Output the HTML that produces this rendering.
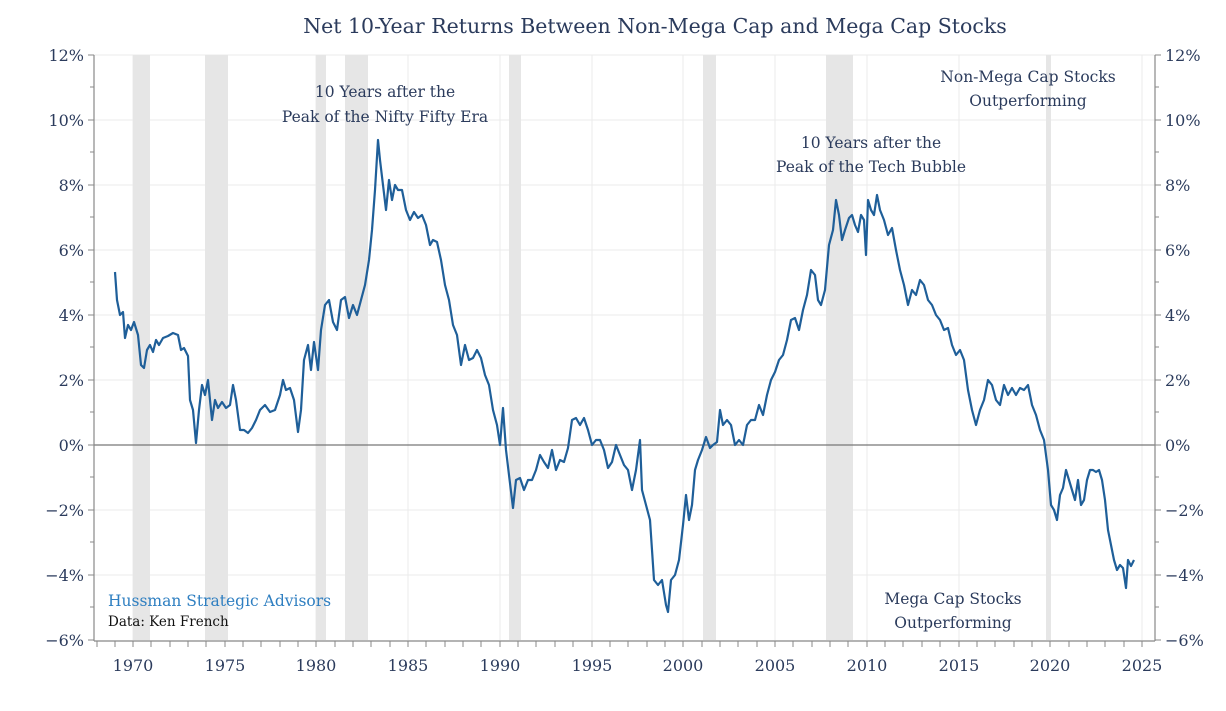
<!DOCTYPE html>
<html><head><meta charset="utf-8"><style>
body{margin:0;background:#fff;}
svg text{font-family:"DejaVu Serif","Liberation Serif",serif;}
</style></head><body>
<svg width="1226" height="706" xmlns="http://www.w3.org/2000/svg">
<rect width="1226" height="706" fill="#fff"/>
<text x="655" y="33" text-anchor="middle" font-size="20.5" fill="#2b3b5c">Net 10-Year Returns Between Non-Mega Cap and Mega Cap Stocks</text>
<g stroke="#ebebeb" stroke-width="1">
<line x1="94" y1="55" x2="1155" y2="55"/><line x1="94" y1="120" x2="1155" y2="120"/><line x1="94" y1="185" x2="1155" y2="185"/><line x1="94" y1="250" x2="1155" y2="250"/><line x1="94" y1="315" x2="1155" y2="315"/><line x1="94" y1="380" x2="1155" y2="380"/><line x1="94" y1="510" x2="1155" y2="510"/><line x1="94" y1="575" x2="1155" y2="575"/>
<line x1="133" y1="55" x2="133" y2="640"/><line x1="225" y1="55" x2="225" y2="640"/><line x1="316" y1="55" x2="316" y2="640"/><line x1="408" y1="55" x2="408" y2="640"/><line x1="500" y1="55" x2="500" y2="640"/><line x1="592" y1="55" x2="592" y2="640"/><line x1="683" y1="55" x2="683" y2="640"/><line x1="775" y1="55" x2="775" y2="640"/><line x1="867" y1="55" x2="867" y2="640"/><line x1="959" y1="55" x2="959" y2="640"/><line x1="1050" y1="55" x2="1050" y2="640"/><line x1="1142" y1="55" x2="1142" y2="640"/>
</g>
<g fill="#e6e6e6">
<rect x="133" y="55" width="17" height="585"/><rect x="205" y="55" width="23" height="585"/><rect x="316" y="55" width="10" height="585"/><rect x="345" y="55" width="23" height="585"/><rect x="509" y="55" width="12" height="585"/><rect x="703" y="55" width="13" height="585"/><rect x="826" y="55" width="27" height="585"/><rect x="1046" y="55" width="5" height="585"/>
</g>
<line x1="94" y1="445" x2="1155" y2="445" stroke="#777" stroke-width="1.3"/>
<g stroke="#888" stroke-width="1.2" fill="none">
<line x1="94" y1="55" x2="94" y2="641"/><line x1="94" y1="641" x2="1155" y2="641"/><line x1="1155" y1="55" x2="1155" y2="641"/>
</g>
<g stroke="#888" stroke-width="1">
<path d="M88 55h6M88 120h6M88 185h6M88 250h6M88 315h6M88 380h6M88 445h6M88 510h6M88 575h6M88 640h6M90 87h4M90 152h4M90 217h4M90 282h4M90 347h4M90 412h4M90 477h4M90 542h4M90 607h4"/>
<path d="M1155 55h6M1155 120h6M1155 185h6M1155 250h6M1155 315h6M1155 380h6M1155 445h6M1155 510h6M1155 575h6M1155 640h6M1155 87h4M1155 152h4M1155 217h4M1155 282h4M1155 347h4M1155 412h4M1155 477h4M1155 542h4M1155 607h4"/>
</g>
<g font-size="16" fill="#2b3b5c" text-anchor="end">
<text x="84" y="61">12%</text><text x="84" y="126">10%</text><text x="84" y="191">8%</text><text x="84" y="256">6%</text><text x="84" y="321">4%</text><text x="84" y="386">2%</text><text x="84" y="451">0%</text><text x="84" y="516">−2%</text><text x="84" y="581">−4%</text><text x="84" y="646">−6%</text>
</g>
<g font-size="16" fill="#2b3b5c" text-anchor="start">
<text x="1165" y="61">12%</text><text x="1165" y="126">10%</text><text x="1165" y="191">8%</text><text x="1165" y="256">6%</text><text x="1165" y="321">4%</text><text x="1165" y="386">2%</text><text x="1165" y="451">0%</text><text x="1165" y="516">−2%</text><text x="1165" y="581">−4%</text><text x="1165" y="646">−6%</text>
</g>
<g font-size="16" fill="#2b3b5c" text-anchor="middle">
<text x="133" y="671">1970</text><text x="225" y="671">1975</text><text x="316" y="671">1980</text><text x="408" y="671">1985</text><text x="500" y="671">1990</text><text x="592" y="671">1995</text><text x="683" y="671">2000</text><text x="775" y="671">2005</text><text x="867" y="671">2010</text><text x="959" y="671">2015</text><text x="1050" y="671">2020</text><text x="1142" y="671">2025</text>
</g>
<g font-size="15.5" fill="#2b3b5c" text-anchor="middle">
<text x="385" y="97">10 Years after the</text><text x="385" y="122">Peak of the Nifty Fifty Era</text>
<text x="871" y="148">10 Years after the</text><text x="871" y="172">Peak of the Tech Bubble</text>
<text x="1028" y="82">Non-Mega Cap Stocks</text><text x="1028" y="106">Outperforming</text>
<text x="953" y="604">Mega Cap Stocks</text><text x="953" y="628">Outperforming</text>
</g>
<text x="108" y="606" font-size="15.5" fill="#2f7fc1">Hussman Strategic Advisors</text>
<text x="108" y="626" font-size="13.5" fill="#111">Data: Ken French</text>
<polyline fill="none" stroke="#1f5f99" stroke-width="2.2" stroke-linejoin="round" points="115,272 117,300 120,315 123,312 125,338 128,325 131,330 134,322 138,335 141,365 144,368 147,350 150,345 153,352 156,340 159,345 163,338 168,336 173,333 178,335 181,350 184,348 188,356 190,400 193,410 196,443 199,410 202,385 205,395 208,380 212,420 215,400 218,408 222,402 226,408 230,405 233,385 236,400 240,430 244,430 248,433 252,428 256,420 260,410 265,405 270,412 275,410 280,395 283,380 286,390 290,388 294,400 298,432 301,410 304,360 308,345 311,370 314,342 318,370 321,330 325,305 329,300 333,322 337,330 341,300 345,297 349,318 353,305 357,315 361,300 365,285 369,260 372,230 375,190 378,140 380,160 383,185 386,210 389,180 392,200 395,185 398,190 402,190 406,210 410,220 414,212 418,218 422,215 426,225 430,245 433,240 437,242 441,260 445,285 449,300 453,325 457,335 461,365 465,345 469,360 473,358 477,350 481,358 485,375 489,385 493,410 497,425 500,445 503,408 506,450 509,475 513,508 516,480 520,478 524,490 528,480 532,480 536,470 540,455 544,462 548,468 552,450 556,470 560,460 564,462 568,448 572,420 576,418 580,425 584,418 588,430 592,445 596,440 600,440 604,450 608,468 612,462 616,445 620,455 624,465 628,470 632,490 636,470 640,440 642,490 646,505 650,520 654,580 658,585 662,580 666,605 668,612 671,580 675,575 679,560 683,525 686,495 689,520 692,505 695,470 698,460 702,450 706,437 710,448 713,445 717,442 720,410 723,425 727,420 731,425 735,445 739,440 743,445 747,425 751,420 755,420 759,405 763,415 767,395 771,380 775,372 779,360 783,355 787,340 791,320 795,318 799,330 803,310 807,295 811,270 815,275 818,300 821,305 825,290 829,245 833,230 836,200 839,215 842,240 845,230 849,218 852,215 855,225 858,232 861,215 864,220 866,255 868,200 871,210 874,215 877,195 880,210 884,220 888,235 892,228 896,250 900,270 904,285 908,305 912,290 916,295 920,280 924,285 928,300 932,305 936,315 940,320 944,330 948,328 952,345 956,355 960,350 964,360 968,390 972,410 976,425 980,410 984,400 988,380 992,385 996,400 1000,405 1004,385 1008,395 1012,388 1016,395 1020,388 1024,390 1028,385 1032,405 1036,415 1040,430 1044,440 1048,470 1051,505 1054,510 1057,520 1060,495 1063,488 1066,470 1069,480 1072,490 1075,500 1078,480 1081,505 1084,500 1087,480 1090,470 1093,470 1096,472 1099,470 1102,480 1105,500 1108,530 1111,545 1114,560 1117,570 1120,565 1123,568 1126,588 1128,560 1131,566 1134,560"/>
<path stroke="#888" stroke-width="1" d="M97 641v6M115 641v6M133 641v6M151 641v6M170 641v6M188 641v6M206 641v6M225 641v6M243 641v6M261 641v6M280 641v6M298 641v6M316 641v6M335 641v6M353 641v6M371 641v6M390 641v6M408 641v6M426 641v6M445 641v6M463 641v6M481 641v6M500 641v6M518 641v6M536 641v6M555 641v6M573 641v6M592 641v6M610 641v6M628 641v6M647 641v6M665 641v6M683 641v6M702 641v6M720 641v6M738 641v6M757 641v6M775 641v6M793 641v6M812 641v6M830 641v6M848 641v6M867 641v6M885 641v6M903 641v6M922 641v6M940 641v6M959 641v6M977 641v6M995 641v6M1014 641v6M1032 641v6M1050 641v6M1069 641v6M1087 641v6M1105 641v6M1124 641v6M1142 641v6"/>
</svg>
</body></html>
